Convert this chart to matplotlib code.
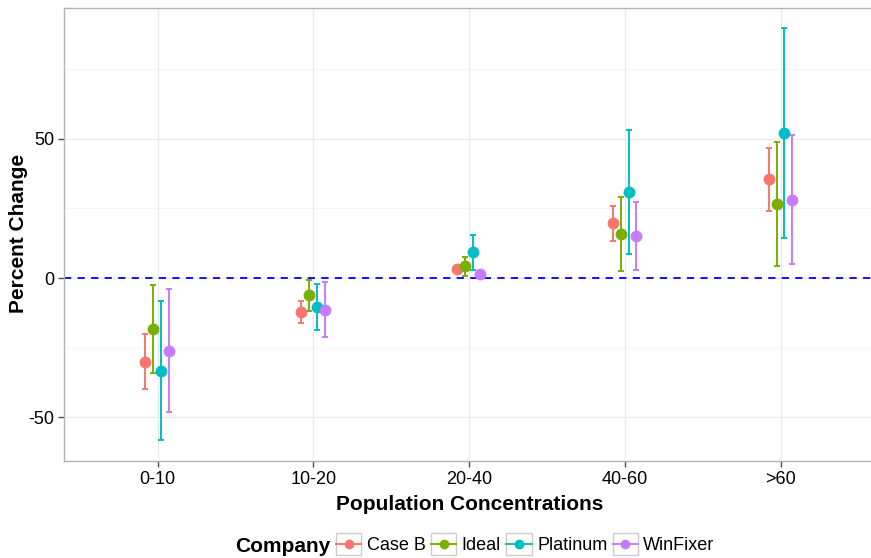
import numpy as np
import matplotlib.pyplot as plt
from matplotlib.patches import Rectangle
from matplotlib.legend_handler import HandlerLine2D
from matplotlib.lines import Line2D

plt.rcParams['font.family'] = ['Liberation Sans', 'DejaVu Sans']
plt.rcParams['axes.unicode_minus'] = False

# data
groups = ['0-10', '10-20', '20-40', '40-60', '>60']
companies = ['Case B', 'Ideal', 'Platinum', 'WinFixer']
colors = ['#F8766D', '#7CAE00', '#00BFC4', '#C77CFF']

mean = {
    'Case B':   [-30.1, -12.1, 3.4, 19.7, 35.5],
    'Ideal':    [-18.3, -6.2, 4.3, 15.8, 26.7],
    'Platinum': [-33.3, -10.5, 9.2, 31.1, 52.2],
    'WinFixer': [-26.3, -11.4, 1.6, 15.1, 28.2],
}
upper = {
    'Case B':   [-20.3, -8.2, 4.2, 25.9, 46.9],
    'Ideal':    [-2.5, -0.8, 7.7, 29.0, 49.0],
    'Platinum': [-8.2, -2.3, 15.5, 53.4, 89.8],
    'WinFixer': [-4.1, -1.6, 2.2, 27.5, 51.3],
}
lower = {
    'Case B':   [-40.0, -16.3, 2.6, 13.4, 24.2],
    'Ideal':    [-34.0, -11.7, 0.7, 2.6, 4.3],
    'Platinum': [-58.4, -18.7, 2.9, 8.8, 14.5],
    'WinFixer': [-48.2, -21.1, 1.0, 2.8, 5.0],
}

fig = plt.figure(figsize=(8.71, 5.58), dpi=100)
ax = fig.add_axes([64 / 871, 1 - 461 / 558, 810.5 / 871, 453 / 558])

x = np.arange(1, len(groups) + 1)
offsets = [-0.078, -0.028, 0.022, 0.072]

# grid
for v in [-75, -25, 25, 75]:
    ax.axhline(v, color='#F5F5F5', lw=0.6, zorder=0)
for v in [-50, 0, 50]:
    ax.axhline(v, color='#EBEBEB', lw=1.0, zorder=0)
for v in x:
    ax.axvline(v, color='#EBEBEB', lw=1.0, zorder=0)

ax.axhline(0, color='#0000FF', lw=1.3, ls=(0, (4, 3.5)), zorder=1)

for c, col, off in zip(companies, colors, offsets):
    m = np.array(mean[c])
    lo = m - np.array(lower[c])
    hi = np.array(upper[c]) - m
    ax.errorbar(x + off, m, yerr=[lo, hi], fmt='o', color=col, ms=7.5,
                elinewidth=1.4, capsize=2, capthick=1.4, zorder=3)

ax.set_xlim(0.4, 5.6)
ax.set_ylim(-65.8, 97.1)
ax.set_xticks(x)
ax.set_xticklabels(groups)
ax.set_yticks([-50, 0, 50])
ax.tick_params(axis='both', colors='#4D4D4D', labelcolor='black', labelsize=13,
               length=4, width=1, pad=3)
for s in ax.spines.values():
    s.set_color('#B3B3B3')
    s.set_linewidth(1.0)

ax.set_xlabel('Population Concentrations', fontsize=15, fontweight='bold', labelpad=5)
fig.text(19 / 871, 1 - 233 / 558, 'Percent Change', rotation=90, ha='center', va='center',
         fontsize=15, fontweight='bold')


class BoxedHandler(HandlerLine2D):
    def create_artists(self, legend, orig_handle, xdescent, ydescent, width, height, fontsize, trans):
        arts = super().create_artists(legend, orig_handle, xdescent, ydescent, width, height, fontsize, trans)
        pad = 3.5
        rect = Rectangle((-xdescent, -ydescent - pad), width, height + 2 * pad,
                         facecolor='white', edgecolor='#CCCCCC', lw=1.0, transform=trans)
        return [rect] + list(arts)


handles = [Line2D([], [], color=col, marker='o', ms=6, lw=1.4) for col in colors]
leg = fig.legend(handles, companies, loc='center left', bbox_to_anchor=(336 / 871, 1 - 546 / 558),
                 ncol=4, frameon=False, fontsize=13, handlelength=1.4, handletextpad=0.3,
                 columnspacing=0.3, borderpad=0, borderaxespad=0,
                 handler_map={Line2D: BoxedHandler(numpoints=1)})
fig.text(330 / 871, 1 - 547 / 558, 'Company', ha='right', va='center', fontsize=15, fontweight='bold')

fig.savefig('out.png', dpi=100)
